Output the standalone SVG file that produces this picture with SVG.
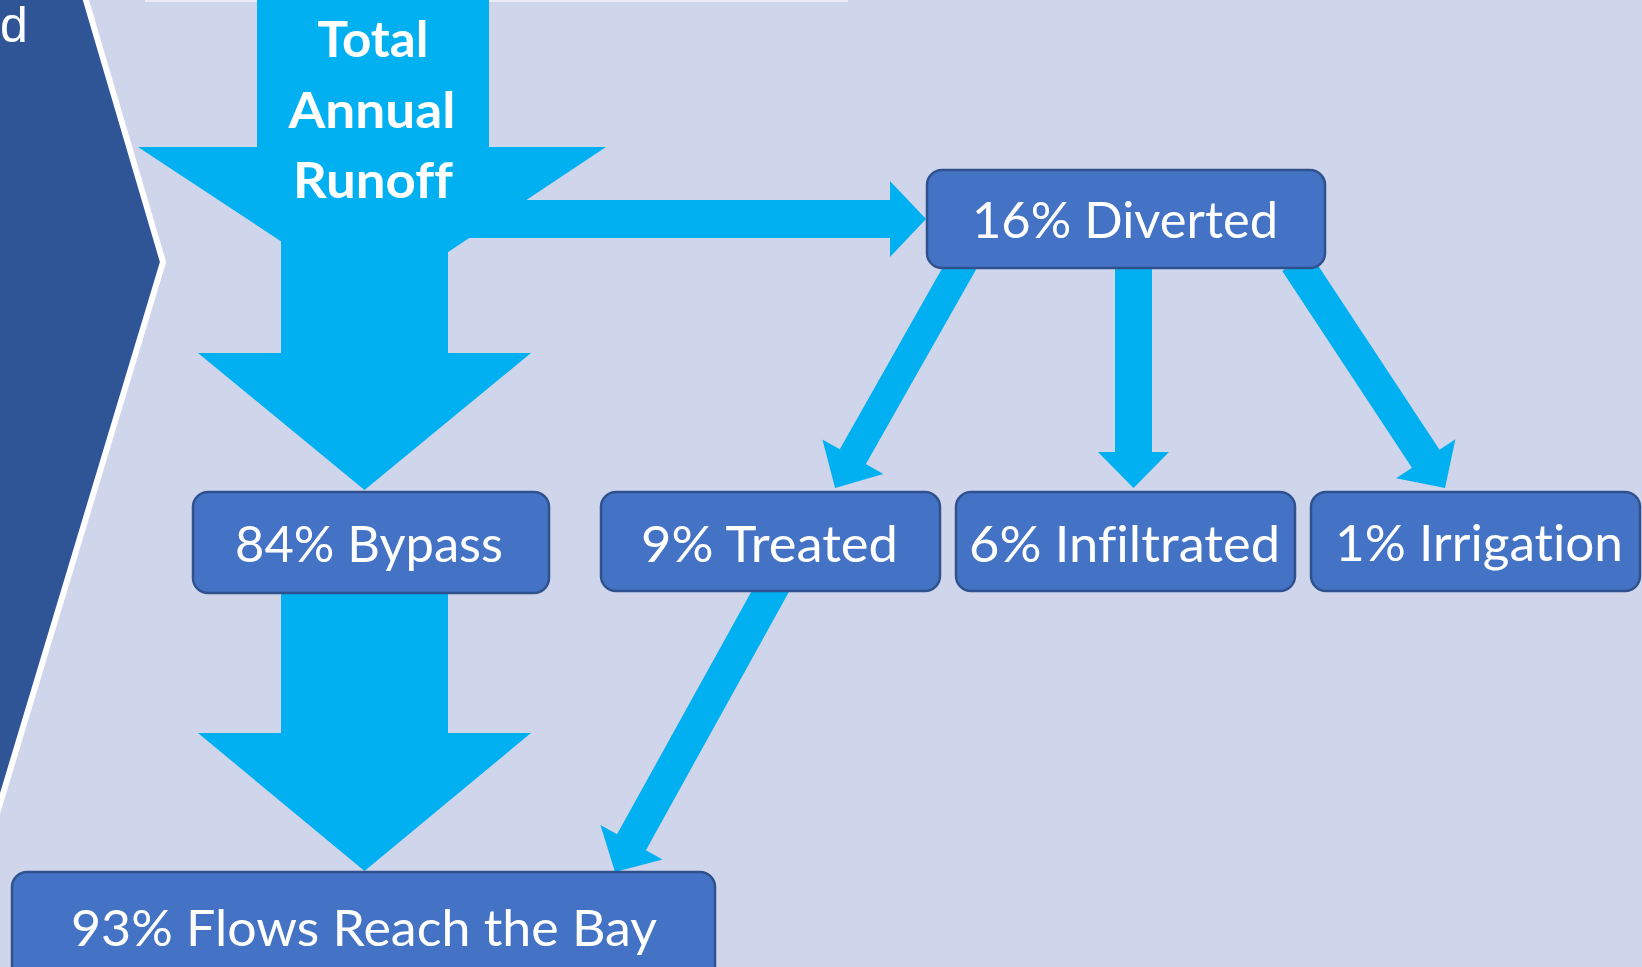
<svg xmlns="http://www.w3.org/2000/svg" width="1642" height="967" viewBox="0 0 1642 967">
<style>
.arrow{fill:#00B0F0}
.box{fill:#4472C4;stroke:#2F528F;stroke-width:2.5}
.lbl{fill:#FFFFFF;font-family:Lato,"Liberation Sans","Noto Sans",sans-serif;font-size:51px;text-anchor:middle;font-variant-ligatures:none;font-feature-settings:"liga" 0,"dlig" 0,"clig" 0}
.title{fill:#FFFFFF;font-family:Lato,"Liberation Sans","Noto Sans",sans-serif;font-size:49px;font-weight:bold;text-anchor:middle;font-variant-ligatures:none;font-feature-settings:"liga" 0,"dlig" 0,"clig" 0}
</style>
<rect x="0" y="0" width="1642" height="967" fill="#CFD5EA"/>
<rect x="145" y="0" width="703" height="2" fill="#E9EBF5"/>
<g id="side-panel">
  <polygon points="-20,-20 80,-20 163,262 -20,870" fill="#2F5597" stroke="#FFFFFF" stroke-width="6" stroke-linejoin="miter"/>
  <text x="0" y="42" fill="#FFFFFF" font-family="'Liberation Sans',sans-serif" font-size="50" font-weight="300" text-anchor="start">d</text>
</g>
<g id="connectors">
  <polygon id="total-arrow" class="arrow" points="257,-5 489,-5 489,147 606,147 373,302 138,147 257,147"/>
  <polygon id="to-diverted" class="arrow" points="440,200 890,200 890,181 926,219 890,257 890,238 440,238"/>
  <polygon id="to-bypass" class="arrow" points="281,230 448,230 448,353 531,353 364.5,490 198,353 281,353"/>
  <polygon id="bypass-to-bay" class="arrow" points="281,585 448,585 448,733 531,733 364.5,871 198,733 281,733"/>
  <polygon id="to-treated" class="arrow" transform="translate(963,262) rotate(119.5)" points="0,-15 223.7,-15 223.7,-35 259.7,0 223.7,35 223.7,15 0,15"/>
  <polygon id="to-infiltrated" class="arrow" points="1115,262 1152,262 1152,452 1169,452 1133.5,488 1098,452 1115,452"/>
  <polygon id="to-irrigation" class="arrow" transform="translate(1296,262) rotate(56.6)" points="0,-16.5 235.7,-16.5 235.7,-35.5 270.7,0 235.7,35.5 235.7,16.5 0,16.5"/>
  <polygon id="treated-to-bay" class="arrow" transform="translate(775,583) rotate(118.97)" points="0,-16.5 296.3,-16.5 296.3,-35.5 330.3,0 296.3,35.5 296.3,16.5 0,16.5"/>
</g>
<g id="total-annual-runoff">
  <text class="title" x="373" y="57" textLength="111" lengthAdjust="spacingAndGlyphs">Total</text>
  <text class="title" x="372" y="128" textLength="167" lengthAdjust="spacingAndGlyphs">Annual</text>
  <text class="title" x="373" y="198" textLength="160" lengthAdjust="spacingAndGlyphs">Runoff</text>
</g>
<g id="diverted">
  <rect class="box" x="927" y="170" width="398" height="98" rx="15"/>
  <text class="lbl" x="1125" y="238" textLength="306" lengthAdjust="spacingAndGlyphs">16% Diverted</text>
</g>
<g id="bypass">
  <rect class="box" x="193" y="492" width="356" height="101" rx="15"/>
  <text class="lbl" x="369" y="562" textLength="268" lengthAdjust="spacingAndGlyphs">84% Bypass</text>
</g>
<g id="treated">
  <rect class="box" x="601" y="492" width="339" height="99" rx="15"/>
  <text class="lbl" x="769.5" y="562" textLength="257" lengthAdjust="spacingAndGlyphs">9% Treated</text>
</g>
<g id="infiltrated">
  <rect class="box" x="956" y="492" width="339" height="99" rx="15"/>
  <text class="lbl" x="1124.5" y="562" textLength="311" lengthAdjust="spacingAndGlyphs">6% Infiltrated</text>
</g>
<g id="irrigation">
  <rect class="box" x="1311" y="492" width="329" height="99" rx="15"/>
  <text class="lbl" x="1479" y="561" textLength="288" lengthAdjust="spacingAndGlyphs">1% Irrigation</text>
</g>
<g id="bay">
  <rect class="box" x="12" y="872" width="703" height="130" rx="15"/>
  <text class="lbl" x="364" y="946" textLength="586" lengthAdjust="spacingAndGlyphs">93% Flows Reach the Bay</text>
</g>
</svg>
